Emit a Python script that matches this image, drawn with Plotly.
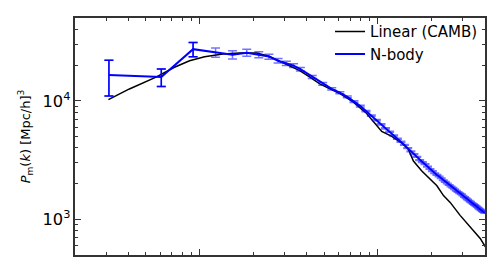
import plotly.graph_objects as go

# linear theory (CAMB) power spectrum
k_lin = [0.00308, 0.00404, 0.0057, 0.00723, 0.00879, 0.01067, 0.01352, 0.0168,
         0.0209, 0.0248, 0.0282, 0.0321, 0.0365, 0.0416, 0.0473, 0.0539, 0.0614,
         0.0727, 0.0867, 0.0945, 0.1053, 0.1199, 0.1365, 0.1487, 0.1586, 0.1768,
         0.1969, 0.2148, 0.2339, 0.255, 0.29, 0.33, 0.376, 0.402]
p_lin = [10250, 12600, 15850, 19200, 21800, 23500, 24800, 25300,
         25300, 23700, 21500, 19800, 18000, 15850, 13900, 12600, 11500,
         9800, 7830, 6680, 5520, 5010, 4406, 3880, 3100, 2560,
         2180, 1920, 1585, 1390, 1080, 863, 690, 586]

# N-body measurement with error bars
k_nb = [0.0031, 0.0061, 0.0092, 0.0123, 0.0153, 0.0184, 0.0215, 0.0245,
        0.0276, 0.0307, 0.0337, 0.0368, 0.0429, 0.0491, 0.0552, 0.0613,
        0.0675, 0.0736, 0.0798, 0.0859, 0.092, 0.0982,
        0.1043, 0.1105, 0.1166, 0.1228, 0.1289, 0.135, 0.1412, 0.1473,
        0.1535, 0.1596, 0.1657, 0.1719, 0.178, 0.1842, 0.1903, 0.1964,
        0.2026, 0.2087, 0.2149, 0.221, 0.2271, 0.2333, 0.2394, 0.2456,
        0.2517, 0.2578, 0.264, 0.2701, 0.2763, 0.2824, 0.2885, 0.2947,
        0.3008, 0.307, 0.3131, 0.3192, 0.3254, 0.3315, 0.3377, 0.3438,
        0.3499, 0.3561, 0.3622, 0.3684, 0.3745, 0.3806, 0.3868, 0.3929,
        0.3991]
p_nb = [16500, 15900, 27300, 25600, 24500, 25500, 24500, 23600,
        21800, 20700, 19800, 18500, 15900, 13900, 12600, 11700,
        10800, 9850, 9030, 8190, 7500, 6880,
        6320, 5850, 5480, 5100, 4790, 4510, 4250, 3990,
        3745, 3550, 3370, 3165, 3045, 2920, 2785, 2660,
        2550, 2445, 2370, 2295, 2220, 2140, 2070, 2005,
        1950, 1895, 1850, 1795, 1745, 1700, 1660, 1625,
        1585, 1545, 1505, 1470, 1437, 1407, 1378, 1348,
        1320, 1296, 1266, 1241, 1217, 1193, 1171, 1150,
        1130]
err_nb = [5500, 2700, 3700, 2300, 1960, 1700, 1400, 1180,
          970, 830, 720, 620, 450, 350, 280, 234,
          196, 164, 139, 117, 100, 86,
          74, 65, 58, 51, 46, 41, 37, 33,
          30, 27, 25, 23, 21, 19, 18, 17,
          15, 14, 14, 13, 12, 11, 11, 10,
          10, 9, 9, 8, 8, 7, 7, 7,
          6, 6, 6, 6, 5, 5, 5, 5,
          5, 4, 4, 4, 4, 4, 4, 4,
          3]

fig = go.Figure()
fig.add_trace(go.Scatter(x=k_lin, y=p_lin, mode="lines", name="Linear (CAMB)",
                         line=dict(color="black", width=1.5)))
fig.add_trace(go.Scatter(x=k_nb, y=p_nb, mode="lines", name="N-body",
                         line=dict(color="#0000ff", width=2),
                         error_y=dict(type="data", array=err_nb, visible=True,
                                      color="rgba(0,0,255,0.55)", thickness=1.5, width=4.5)))
# the few large low-k error bars look solid in the original
fig.add_trace(go.Scatter(x=k_nb[:3], y=p_nb[:3], mode="markers", showlegend=False,
                         marker=dict(size=1, opacity=0), hoverinfo="skip",
                         error_y=dict(type="data", array=err_nb[:3], visible=True,
                                      color="#0000ff", thickness=1.5, width=4.5)))

axis_common = dict(type="log", showline=True, linecolor="#333333", linewidth=2,
                   mirror="allticks", ticks="inside", ticklen=6, tickwidth=1,
                   tickcolor="#333333", showgrid=False, zeroline=False,
                   minor=dict(ticks="inside", ticklen=3, tickcolor="#333333",
                              dtick="D1", showgrid=False))

fig.update_xaxes(range=[-2.699, -0.398], dtick=1, showticklabels=False, **axis_common)
fig.update_yaxes(range=[2.699, 4.699], dtick=1, exponentformat="power",
                 tickfont=dict(size=13, color="black"),
                 title=dict(text="<i>P</i><sub>m</sub>(<i>k</i>) [Mpc/h]<sup>3</sup>",
                            font=dict(size=13, color="black"), standoff=9),
                 **axis_common)

# the page body adds an 8px offset, so the figure is 8px smaller than the window
fig.update_layout(
    width=492, height=262,
    margin=dict(l=67, r=15, t=7, b=15),
    plot_bgcolor="white", paper_bgcolor="white",
    font=dict(family="DejaVu Sans", color="black"),
    showlegend=True,
    legend=dict(x=0.622, y=1.012, xanchor="left", yanchor="top",
                bgcolor="rgba(0,0,0,0)", font=dict(size=15)),
)

fig.write_html("out.html")
